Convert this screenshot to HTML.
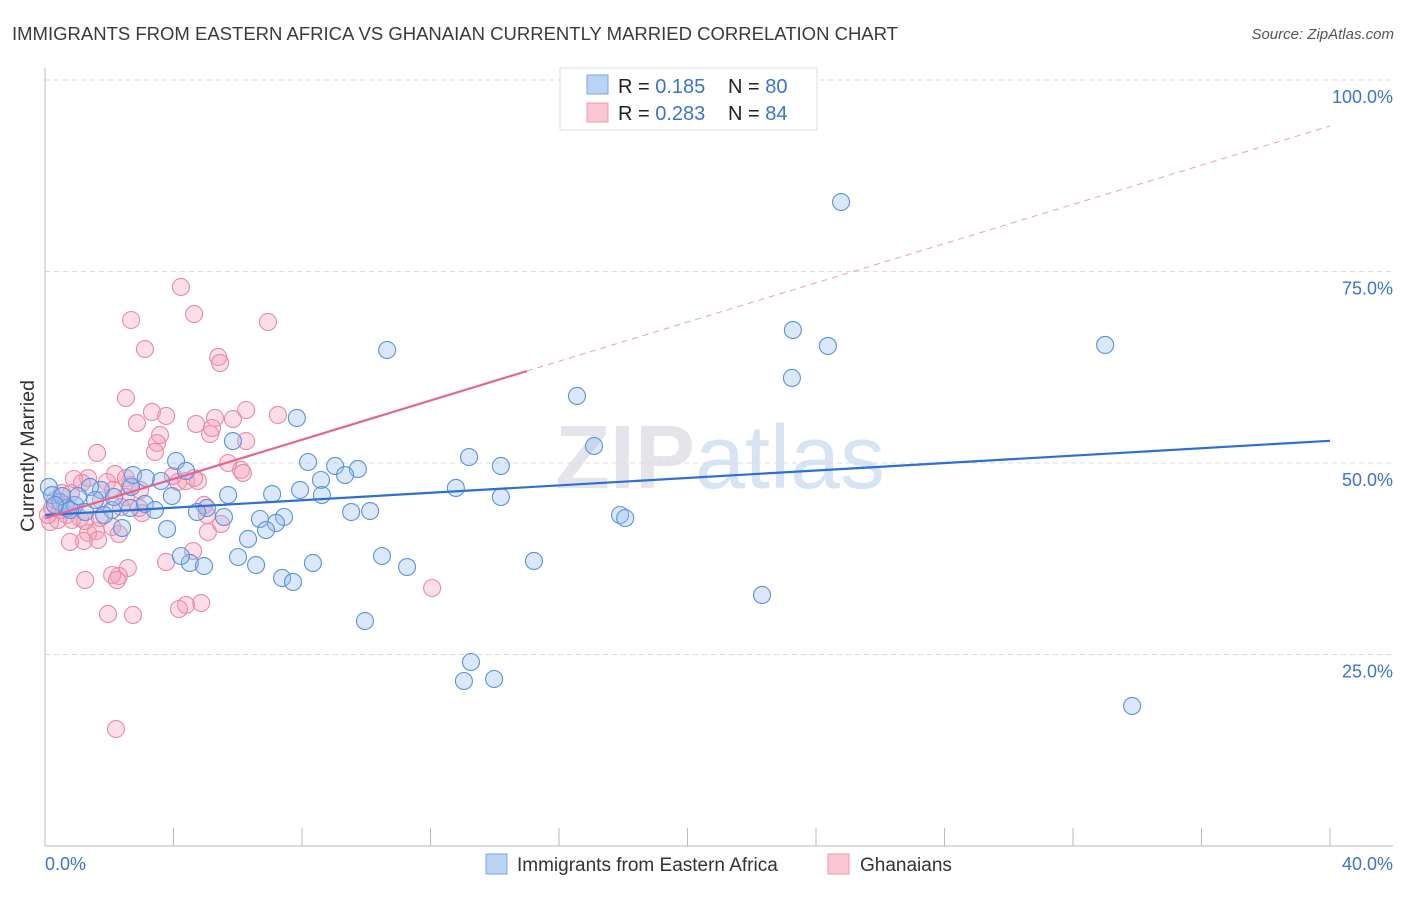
<!DOCTYPE html>
<html><head><meta charset="utf-8"><style>
body{margin:0;background:#fff;font-family:"Liberation Sans",sans-serif;}
svg text{font-family:"Liberation Sans",sans-serif;}
</style></head><body>
<svg id="chart" width="1406" height="892" xmlns="http://www.w3.org/2000/svg">
<text x="12" y="40" font-size="18" fill="#3a3a3a" textLength="886" lengthAdjust="spacingAndGlyphs">IMMIGRANTS FROM EASTERN AFRICA VS GHANAIAN CURRENTLY MARRIED CORRELATION CHART</text>
<text x="1394" y="39" font-size="15" font-style="italic" fill="#555" text-anchor="end">Source: ZipAtlas.com</text>
<text x="720" y="488" font-size="90" fill="#e4e4ea" text-anchor="middle" font-family="Liberation Serif"><tspan font-weight="bold">ZIP</tspan><tspan fill="#d6e4f4">atlas</tspan></text>
<text transform="translate(34,456) rotate(-90)" font-size="19" fill="#333" text-anchor="middle" textLength="152" lengthAdjust="spacingAndGlyphs">Currently Married</text>
<g id="grid"></g><g id="pts"></g><g id="trends"></g>
<g>
<rect x="560" y="68" width="257" height="62" fill="#fff" stroke="#ddd"/>
<rect x="587" y="75" width="21" height="19" fill="#b8d3f4" stroke="#7aa7e0"/>
<rect x="587" y="103" width="21" height="19" fill="#fac6d4" stroke="#ee9ab2"/>
<text x="618" y="93" font-size="20" fill="#222">R = <tspan fill="#3a74d0">0.185</tspan><tspan x="728">N = </tspan><tspan fill="#3a74d0">80</tspan></text>
<text x="618" y="120" font-size="20" fill="#222">R = <tspan fill="#3a74d0">0.283</tspan><tspan x="728">N = </tspan><tspan fill="#3a74d0">84</tspan></text>
</g>
<g>
<rect x="486" y="854" width="21" height="20" fill="#b8d3f4" stroke="#7aa7e0"/>
<text x="517" y="871" font-size="19" fill="#333">Immigrants from Eastern Africa</text>
<rect x="828" y="854" width="21" height="20" fill="#fac6d4" stroke="#ee9ab2"/>
<text x="860" y="871" font-size="19" fill="#333">Ghanaians</text>
</g>
<text x="45" y="870" font-size="18" fill="#3a74d0">0.0%</text>
<text x="1393" y="870" font-size="18" fill="#3a74d0" text-anchor="end">40.0%</text>
</svg>
<script>
const yTicks=[25,50,75,100];
const yTickLabels=["25.0%","50.0%","75.0%","100.0%"];
const blueX=[24.78,23.28,24.37,33.00,23.25,10.65,16.56,7.84,17.09,13.20,14.19,8.19,9.03,9.74,9.34,8.59,5.85,4.08,4.39,3.61,7.94,7.07,8.62,5.70,3.95,12.79,14.19,17.90,18.06,9.53,10.12,5.04,4.73,5.57,7.44,6.69,7.19,6.88,3.80,2.40,6.32,6.01,4.51,4.95,4.23,6.57,8.34,10.49,11.27,15.22,7.38,7.72,9.96,22.32,13.26,13.04,13.98,33.84,0.12,0.22,0.47,0.68,0.93,1.25,1.74,2.09,2.65,3.11,2.68,2.15,1.40,1.84,0.53,0.78,3.42,2.74,0.31,1.03,1.56,3.14];
const blueY=[84.07,67.36,65.28,65.41,61.10,64.75,58.75,55.88,52.22,50.78,49.61,50.13,49.61,49.22,48.43,47.78,52.87,50.26,48.96,47.65,46.48,45.95,45.82,45.82,45.69,46.74,45.56,43.21,42.82,43.60,43.73,44.13,43.60,42.95,42.95,42.69,42.17,41.25,41.38,41.51,40.08,37.73,36.95,36.55,37.86,36.68,36.95,37.86,36.42,37.21,34.99,34.47,29.37,32.77,24.02,21.54,21.80,18.28,46.87,45.82,44.91,44.13,44.52,43.60,46.48,43.86,44.13,44.65,46.87,45.56,46.87,43.21,45.69,43.86,43.86,48.43,44.52,45.69,45.17,48.04];
const pinkX=[4.23,4.64,2.68,6.94,3.11,5.39,5.45,2.52,3.33,6.26,7.25,5.29,2.86,4.70,3.77,3.58,5.14,5.20,6.26,3.49,3.42,1.62,5.70,6.10,6.16,4.14,4.39,4.76,2.18,2.52,1.34,0.90,1.15,1.93,2.65,2.96,1.74,2.12,3.98,4.64,0.81,0.53,0.31,0.47,0.68,1.09,0.16,0.84,1.59,1.34,1.25,2.09,2.30,5.04,5.48,5.07,4.61,3.77,5.85,1.21,0.78,1.65,2.58,2.30,2.09,2.24,1.25,4.86,4.39,4.17,1.96,2.74,12.05,2.21,3.02,2.93,2.52,0.40,0.62,0.09,0.22,1.71,2.37,4.95];
const pinkY=[72.98,69.45,68.67,68.41,64.88,63.84,63.06,58.49,56.66,56.92,56.27,55.88,55.22,55.09,56.14,53.66,53.79,54.57,52.87,52.61,51.44,51.31,50.00,49.09,48.70,47.52,47.65,47.65,48.56,48.04,48.04,47.91,47.39,47.52,47.13,46.48,45.17,46.48,48.30,48.04,46.08,46.08,45.17,43.86,43.21,42.82,42.30,42.56,41.12,40.86,42.43,41.65,40.73,43.21,42.04,40.99,38.51,37.08,55.74,39.82,39.69,39.95,36.29,35.25,35.38,34.73,34.73,31.72,31.46,30.94,30.29,30.16,33.68,15.27,43.47,44.13,45.56,42.56,44.52,43.21,44.13,42.82,44.26,44.52];
const blueTrend=[43.2,52.9];
const pinkTrend=[42.8,94.0];
const pinkSolidEnd=15.0;

const NS="http://www.w3.org/2000/svg";
function sx(v){return 45+v/40*1285;}
function sy(v){return 846-v/100*766;}
function mk(tag,attrs,parent){const e=document.createElementNS(NS,tag);for(const k in attrs)e.setAttribute(k,attrs[k]);parent.appendChild(e);return e;}
const grid=document.getElementById('grid');
yTicks.forEach((t,i)=>{
  const l=mk('line',{x1:45,x2:1393,y1:sy(t),y2:sy(t),stroke:'#dcdcdc','stroke-dasharray':'5,4'},grid);
  
  
  const tx=mk('text',{x:1393,y:sy(t)+23,'font-size':18,fill:'#3a74d0','text-anchor':'end'},grid);
  tx.textContent=yTickLabels[i];
  
  
});
const ax=mk('line',{x1:45,x2:45,y1:68,y2:846,stroke:'#bbb'},grid);


const bx=mk('line',{x1:45,x2:1393,y1:846,y2:846,stroke:'#bbb'},grid);


for(let i=0;i<=10;i++){
  const t=mk('line',{x1:sx(i*4),x2:sx(i*4),y1:828,y2:846,stroke:'#bbb'},grid);
  
  
}
const pts=document.getElementById('pts');
pinkX.forEach((x,i)=>{
  const c=mk('circle',{cx:sx(x),cy:sy(pinkY[i]),r:8.5,fill:'rgba(244,160,185,0.35)',stroke:'#e98aa6','stroke-width':1.1},pts);
  
  
});
blueX.forEach((x,i)=>{
  const c=mk('circle',{cx:sx(x),cy:sy(blueY[i]),r:8.5,fill:'rgba(150,190,240,0.35)',stroke:'#5a92dc','stroke-width':1.1},pts);
  
  
});
const tr=document.getElementById('trends');
const bt=mk('line',{x1:sx(0),y1:sy(blueTrend[0]),x2:sx(40),y2:sy(blueTrend[1]),stroke:'#2c6fd6','stroke-width':2.2},tr);


const pEnd=pinkTrend[0]+(pinkTrend[1]-pinkTrend[0])*pinkSolidEnd/40;
const pt=mk('line',{x1:sx(0),y1:sy(pinkTrend[0]),x2:sx(pinkSolidEnd),y2:sy(pEnd),stroke:'#e4668e','stroke-width':2.2},tr);


const pd=mk('line',{x1:sx(pinkSolidEnd),y1:sy(pEnd),x2:sx(40),y2:sy(pinkTrend[1]),stroke:'#eaa0b8','stroke-width':1,'stroke-dasharray':'6,5'},tr);


</script>
</body></html>
